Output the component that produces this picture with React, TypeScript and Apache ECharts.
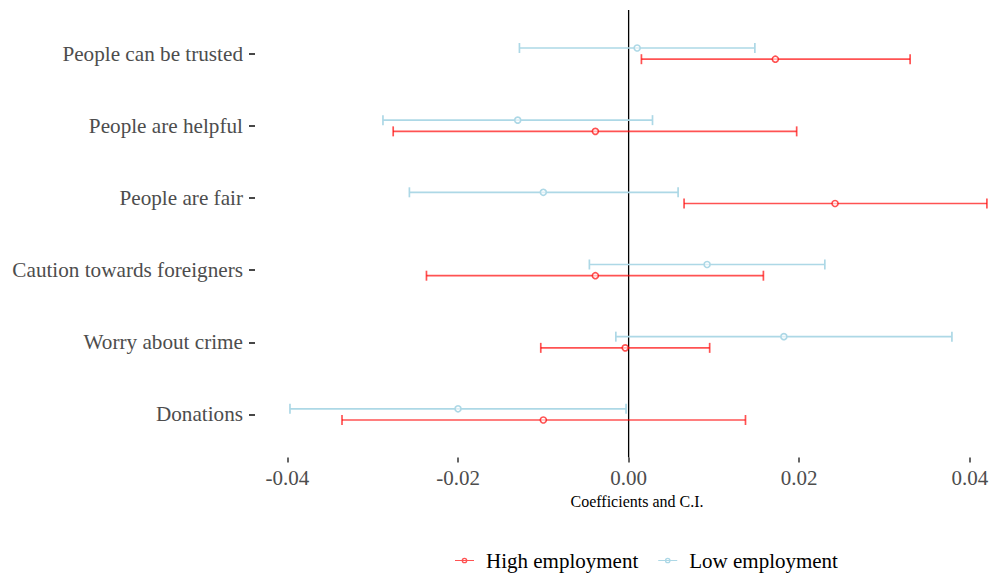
import React, { useEffect, useRef } from "react";
import * as echarts from "echarts";

const categories = [
  "People can be trusted",
  "People are helpful",
  "People are fair",
  "Caution towards foreigners",
  "Worry about crime",
  "Donations",
];

// [lower, estimate, upper]
const highEmployment = [
  [0.0015, 0.0172, 0.033],
  [-0.0276, -0.0039, 0.0197],
  [0.0065, 0.0242, 0.042],
  [-0.0237, -0.0039, 0.0158],
  [-0.0103, -0.0004, 0.0095],
  [-0.0336, -0.01, 0.0137],
];

const lowEmployment = [
  [-0.0128, 0.001, 0.0148],
  [-0.0288, -0.013, 0.0028],
  [-0.0257, -0.01, 0.0058],
  [-0.0046, 0.0092, 0.023],
  [-0.0015, 0.0182, 0.0379],
  [-0.0397, -0.02, -0.0003],
];

const xTicks = [-0.04, -0.02, 0, 0.02, 0.04];

const SERIF = "'Liberation Serif', 'DejaVu Serif', serif";
const RED = "rgba(255,0,0,0.68)";
const BLUE = "#ADD8E6";

const legendIcon =
  "path://M0,3.4 H20 V4.6 H0 Z M7,4 A3,3 0 1 1 13,4 A3,3 0 1 1 7,4 Z M8.4,4 A1.6,1.6 0 1 0 11.6,4 A1.6,1.6 0 1 0 8.4,4 Z";

function makeErrorSeries(name: string, rows: number[][], color: string, dir: number) {
  return {
    name,
    type: "custom",
    data: rows.map((r, i) => [i, r[0], r[1], r[2]]),
    encode: { x: [1, 2, 3], y: 0 },
    itemStyle: { color },
    renderItem: (params: any, api: any) => {
      const cat = api.value(0);
      const lo = api.coord([api.value(1), cat]);
      const est = api.coord([api.value(2), cat]);
      const hi = api.coord([api.value(3), cat]);
      const band = api.size([0, 1])[1];
      const dy = dir * band * 0.0777;
      const y = lo[1] + dy;
      const cap = 5;
      const style = { stroke: color, lineWidth: 1.7, fill: "none" };
      return {
        type: "group",
        children: [
          { type: "line", shape: { x1: lo[0], y1: y, x2: hi[0], y2: y }, style },
          { type: "line", shape: { x1: lo[0], y1: y - cap, x2: lo[0], y2: y + cap }, style },
          { type: "line", shape: { x1: hi[0], y1: y - cap, x2: hi[0], y2: y + cap }, style },
          {
            type: "circle",
            shape: { cx: est[0], cy: y, r: 3 },
            style: { stroke: color, lineWidth: 1.6, fill: "rgba(255,255,255,0.6)" },
          },
        ],
      };
    },
  };
}

export default function App() {
  const ref = useRef<HTMLDivElement>(null);
  useEffect(() => {
    if (!ref.current) return;
    const chart = echarts.init(ref.current, null, { renderer: "svg" });
    chart.setOption({
      animation: false,
      backgroundColor: "#ffffff",
      grid: { left: 255, right: 0, top: 17.5, height: 433 },
      xAxis: {
        type: "value",
        min: -0.0438,
        max: 0.04295,
        offset: 7,
        axisLine: { show: false },
        splitLine: { show: false },
        axisTick: {
          show: true,
          length: 5,
          customValues: xTicks,
          lineStyle: { color: "#333333", width: 1.5 },
        },
        axisLabel: {
          customValues: xTicks,
          formatter: (v: number) => v.toFixed(2),
          fontFamily: SERIF,
          fontSize: 21,
          color: "#4D4D4D",
          margin: 10,
        },
        name: "Coefficients and C.I.",
        nameLocation: "middle",
        nameGap: 34,
        nameTextStyle: {
          fontFamily: SERIF,
          fontSize: 16,
          color: "#000000",
          padding: [0, 0, 0, 24],
        },
      },
      yAxis: {
        type: "category",
        data: categories,
        inverse: true,
        axisLine: { show: false, onZero: false },
        splitLine: { show: false },
        axisTick: {
          show: true,
          alignWithLabel: true,
          length: 6,
          lineStyle: { color: "#333333", width: 1.8 },
        },
        axisLabel: {
          fontFamily: SERIF,
          fontSize: 21.2,
          color: "#4D4D4D",
          margin: 12,
        },
      },
      legend: {
        left: 450,
        top: 545,
        itemWidth: 19,
        itemHeight: 6,
        itemGap: 20,
        textStyle: { fontFamily: SERIF, fontSize: 21, color: "#000000", padding: [0, 0, 0, 7] },
        data: [
          { name: "High employment", icon: legendIcon },
          { name: "Low employment", icon: legendIcon },
        ],
      },
      series: [
        {
          name: "zero",
          type: "custom",
          silent: true,
          data: [[0, 0]],
          encode: { x: 0, y: 1 },
          renderItem: (params: any, api: any) => {
            const x = api.coord([0, 0])[0];
            const cs = params.coordSys;
            return {
              type: "line",
              shape: { x1: x, y1: cs.y - 7.5, x2: x, y2: cs.y + cs.height + 7 },
              style: { stroke: "#000000", lineWidth: 1.3 },
            };
          },
        },
        makeErrorSeries("Low employment", lowEmployment, BLUE, -1),
        makeErrorSeries("High employment", highEmployment, RED, 1),
      ],
    });
    return () => chart.dispose();
  }, []);
  return (
    <div
      ref={ref}
      style={{ position: "fixed", left: 0, top: 0, width: 995, height: 577 }}
    />
  );
}
